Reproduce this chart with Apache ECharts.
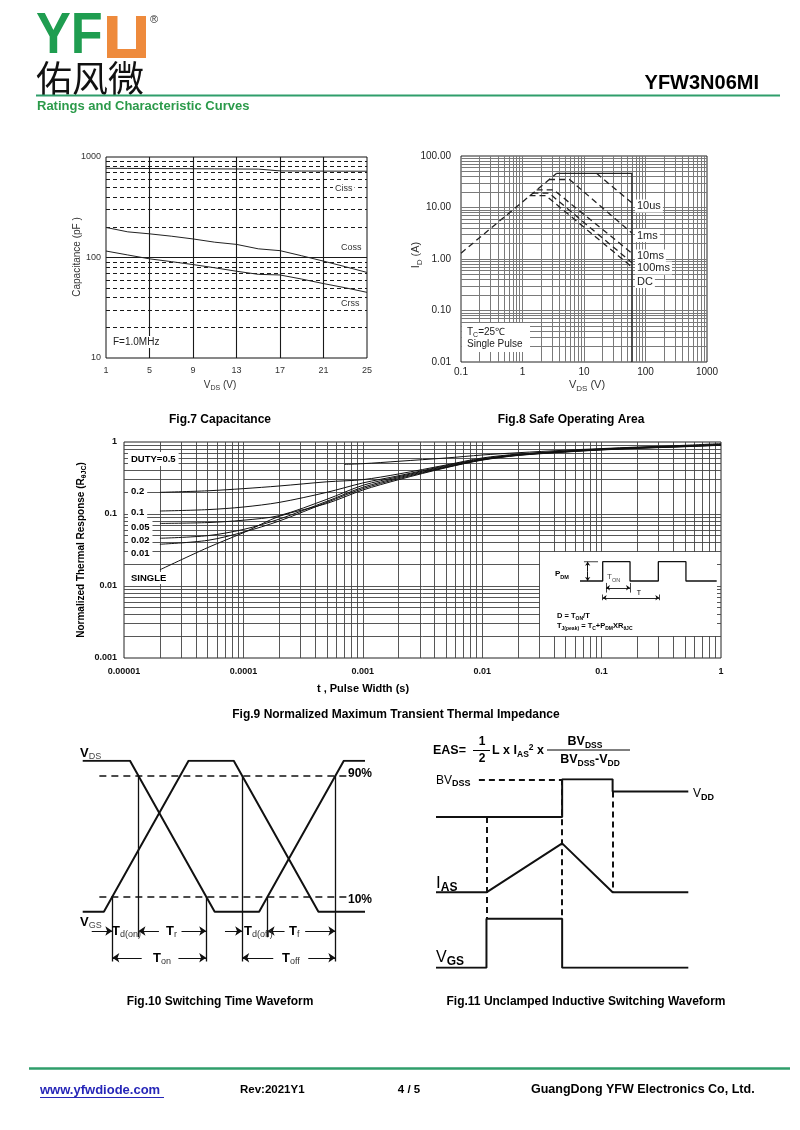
<!DOCTYPE html>
<html><head><meta charset="utf-8">
<script src="https://cdn.jsdelivr.net/npm/echarts/dist/echarts.min.js"></script>
<style>html,body{margin:0;padding:0;background:#fff}#c{width:800px;height:1130px}</style>
</head><body><div id="c"></div>
<script>
// ================= DATA =================
// Fig.7 Capacitance
const capVds  = [1, 3, 5, 7, 9, 11, 13, 15, 17, 19, 21, 23, 25];
const capCiss = [772, 770, 768, 766, 764, 762, 760, 758, 727, 725, 724, 723, 722];
const capCoss = [199, 180, 172, 163, 153, 142, 135, 122, 117, 104, 92, 81, 71];
const capCrss = [116, 106, 97, 91, 85, 79, 73, 68, 67, 61, 55, 50, 45];
const capXTicks = [1, 5, 9, 13, 17, 21, 25];

// Fig.8 Safe Operating Area (V, A)
const soaRdsV = [0.1, 3.6],          soaRdsI = [1.3, 46];
const soa10usV = [16, 60],           soa10usI = [46, 12.3];
const soa1msV = [2.7, 5.8, 60],      soa1msI = [35, 35, 3.2];
const soa10msV = [1.7, 3.2, 60],     soa10msI = [22, 22, 1.3];
const soa100msV = [1.45, 2.7, 60],   soa100msI = [19, 19, 0.85];
const soaDcV = [1.3, 2.4, 60],       soaDcI = [17, 17, 0.7];
const soaLimV = [3.6, 60, 60],       soaLimI = [46, 46, 0.01];

// Fig.9 Transient thermal impedance
const thT = [2e-5, 5e-5, 1e-4, 2e-4, 5e-4, 1e-3, 2e-3, 5e-3, 1e-2, 2e-2, 5e-2, 0.1, 0.2, 0.5, 1];
const thD05T = [7e-4, 1e-3, 2e-3, 5e-3, 1e-2, 2e-2, 5e-2, 0.1, 0.2, 0.5, 1];
const thD05  = [0.49, 0.5, 0.54, 0.6, 0.66, 0.71, 0.77, 0.81, 0.85, 0.9, 0.95];
const thD02  = [0.2, 0.21, 0.225, 0.245, 0.28, 0.30, 0.36, 0.48, 0.6, 0.68, 0.75, 0.8, 0.84, 0.885, 0.925];
const thD01  = [0.11, 0.115, 0.125, 0.145, 0.2, 0.27, 0.34, 0.47, 0.585, 0.67, 0.745, 0.795, 0.835, 0.88, 0.92];
const thD005 = [0.074, 0.076, 0.082, 0.095, 0.16, 0.25, 0.33, 0.46, 0.575, 0.665, 0.74, 0.79, 0.83, 0.875, 0.915];
const thD002 = [0.046, 0.05, 0.061, 0.085, 0.15, 0.235, 0.32, 0.45, 0.57, 0.66, 0.735, 0.785, 0.825, 0.87, 0.91];
const thD001 = [0.038, 0.043, 0.056, 0.08, 0.145, 0.225, 0.31, 0.445, 0.565, 0.655, 0.73, 0.78, 0.82, 0.865, 0.905];
const thSingle = [0.0168, 0.034, 0.055, 0.093, 0.14, 0.215, 0.3, 0.44, 0.56, 0.65, 0.725, 0.775, 0.815, 0.86, 0.9];

// Fig.9 inset pulse train (time units, level)
const pulseT = [0, 16.6, 16.6, 36.6, 36.6, 57.3, 57.3, 77.5, 77.5, 100];
const pulseP = [0, 0, 1, 1, 0, 0, 1, 1, 0, 0];

// Fig.10 Switching waveform (time units 0..100, level 0..1)
const swTimeA = [0, 16.75, 46.75, 62.5, 92.5, 100], swLevelA = [1, 1, 0, 0, 1, 1]; // V_DS
const swTimeB = [0, 7.5, 37.5, 53.5, 83.5, 100],    swLevelB = [0, 0, 1, 1, 0, 0]; // V_GS
const swRefLevels = [0.9, 0.1];
const swMarkT   = [10.5, 19.75, 43.75, 56.5, 65.5, 89.5];
const swMarkTop = [0.1, 0.9, 0.1, 0.9, 0.1, 0.9];
const swMarkRow = [2, 1, 2, 2, 1, 2];

// Fig.11 Unclamped inductive switching (time units 0..100, level units 0..100)
const uisTVds = [0, 50, 50, 70, 70, 100], uisVds = [80, 80, 100, 100, 93.5, 93.5];
const uisTIas = [0, 20, 50, 70, 100],     uisIas = [40, 40, 66, 40, 40];
const uisTVgs = [0, 20, 20, 50, 50, 100], uisVgs = [0, 0, 26, 26, 0, 0];
const uisEdges = [20, 50, 70];

// ================= BUILD =================
const F = '"Liberation Sans", Arial, Helvetica, sans-serif';
const CJK = '"Noto Sans CJK SC", sans-serif';
const zip = (xs, ys) => xs.map((x, i) => [x, ys[i]]);
const G = [];
function T(x, y, text, o) {
  o = o || {};
  const st = {
    text: text, fill: o.color || '#000', fontSize: o.size || 12, fontWeight: o.weight || 'normal',
    fontFamily: o.family || F, align: o.align || 'left', textAlign: o.align || 'left',
    verticalAlign: o.va || 'middle', textVerticalAlign: o.va || 'middle'
  };
  if (o.rich) st.rich = o.rich;
  if (o.bg) { st.backgroundColor = o.bg; st.padding = o.pad || [1, 2]; }
  const el = { type: 'text', x: x, y: y, z: o.z || 100, silent: true, style: st };
  if (o.rot) el.rotation = o.rot;
  if (o.sx) el.scaleX = o.sx;
  G.push(el);
}
function R(x, y, w, h, fill, z) {
  G.push({ type: 'rect', z: z || 50, silent: true, shape: { x: x, y: y, width: w, height: h }, style: { fill: fill || '#fff' } });
}
function LN(x1, y1, x2, y2, color, w) {
  G.push({ type: 'line', z: 100, silent: true, shape: { x1: x1, y1: y1, x2: x2, y2: y2 }, style: { stroke: color || '#000', lineWidth: w || 1 } });
}
function rich(ms, ss, mw, sw, sc, mc) {
  const L = ms + 4, c = mc || '#000', s = sc || c;
  return {
    m: { fontSize: ms, fontWeight: mw || 'normal', fontFamily: F, lineHeight: L, fill: c, color: c },
    s: { fontSize: ss, fontWeight: sw || 'normal', fontFamily: F, lineHeight: ss, verticalAlign: 'bottom', fill: s, color: s },
    p: { fontSize: ss, fontWeight: sw || 'normal', fontFamily: F, lineHeight: ss, verticalAlign: 'top', fill: s, color: s }
  };
}
function logLines(lo, hi, withMajor) {
  const out = [], e0 = Math.round(Math.log10(lo)), e1 = Math.round(Math.log10(hi));
  for (let e = e0; e < e1; e++) {
    const b = Math.pow(10, e);
    if (withMajor && e > e0) out.push(b);
    for (let m = 2; m <= 9; m++) out.push(m * b);
  }
  return out;
}
// grid lines drawn as a lines series spanning the axis range
function gridLines(gi, xVals, yVals, xr, yr, style, perItem) {
  const data = xVals.map(v => ({ coords: [[v, yr[0]], [v, yr[1]]] }))
    .concat(yVals.map(v => ({ coords: [[xr[0], v], [xr[1], v]] })));
  if (perItem) data.forEach((d, i) => { if (perItem[i]) d.lineStyle = perItem[i]; });
  return {
    type: 'lines', coordinateSystem: 'cartesian2d', xAxisIndex: gi, yAxisIndex: gi, silent: true, z: 1,
    symbol: ['none', 'none'], animation: false,
    lineStyle: Object.assign({ opacity: 1, curveness: 0 }, style), data: data
  };
}
function S(gi, xs, ys, o) {
  o = o || {};
  return {
    type: 'line', xAxisIndex: gi, yAxisIndex: gi, data: zip(xs, ys), symbol: 'none', silent: true,
    z: o.z || 3, smooth: o.smooth || false, animation: false,
    lineStyle: { color: o.color || '#111', width: o.width || 1, type: o.type || 'solid' },
    emphasis: { disabled: true }
  };
}
function A(gi, segs, o) {
  o = o || {};
  return {
    type: 'lines', coordinateSystem: 'cartesian2d', xAxisIndex: gi, yAxisIndex: gi, silent: true,
    z: o.z || 3, symbol: o.symbol || ['none', 'arrow'], symbolSize: o.size || 7, animation: false,
    lineStyle: { color: '#111', width: o.width || 1.2, type: o.type || 'solid', opacity: 1, curveness: 0 },
    data: segs.map(s => ({ coords: s }))
  };
}
const hidden = (min, max) => ({ type: 'value', min: min, max: max, show: false });
const noLine = { show: false };

const grids = [
  { left: 106, top: 157, width: 261, height: 201, show: true, borderColor: '#111', borderWidth: 1, backgroundColor: 'transparent', outerBoundsMode: 'none' },
  { left: 461, top: 156, width: 246, height: 206, show: true, borderColor: '#222', borderWidth: 1, backgroundColor: 'transparent', outerBoundsMode: 'none' },
  { left: 124, top: 442, width: 597, height: 216, show: true, borderColor: '#222', borderWidth: 1, backgroundColor: 'transparent', outerBoundsMode: 'none' },
  { left: 82.7, top: 760.7, width: 282.3, height: 203.85, show: false, outerBoundsMode: 'none' },
  { left: 436, top: 779.3, width: 252.3, height: 188.4, show: false, outerBoundsMode: 'none' },
  { left: 580, top: 561.7, width: 136.7, height: 38.6, show: false, outerBoundsMode: 'none' }
];
const lblStyle = (sz, col, mg, wt) => ({ fontSize: sz, color: col, margin: mg, fontFamily: F, fontWeight: wt || 'normal' });
const decFmt = v => { const e = Math.round(Math.log10(v)); return e < 0 ? v.toFixed(-e) : String(Math.round(v)); };

const xAxes = [
  { gridIndex: 0, type: 'value', min: 1, max: 25, interval: 4, axisLine: noLine, axisTick: noLine, splitLine: noLine, axisLabel: Object.assign(lblStyle(9, '#333', 8), { formatter: v => String(v) }) },
  { gridIndex: 1, type: 'log', logBase: 10, min: 0.1, max: 1000, axisLine: noLine, axisTick: noLine, splitLine: noLine, minorTick: noLine, axisLabel: Object.assign(lblStyle(10, '#222', 5), { formatter: decFmt }) },
  { gridIndex: 2, type: 'log', logBase: 10, min: 1e-5, max: 1, axisLine: noLine, axisTick: noLine, splitLine: noLine, axisLabel: Object.assign(lblStyle(9, '#111', 9, 'bold'), { formatter: decFmt }) },
  Object.assign({ gridIndex: 3 }, hidden(0, 100)),
  Object.assign({ gridIndex: 4 }, hidden(0, 100)),
  Object.assign({ gridIndex: 5 }, hidden(0, 100))
];
const yAxes = [
  { gridIndex: 0, type: 'log', logBase: 10, min: 10, max: 1000, axisLine: noLine, axisTick: noLine, splitLine: noLine, axisLabel: Object.assign(lblStyle(9, '#333', 5), { formatter: decFmt }) },
  { gridIndex: 1, type: 'log', logBase: 10, min: 0.01, max: 100, axisLine: noLine, axisTick: noLine, splitLine: noLine, axisLabel: Object.assign(lblStyle(10, '#222', 10), { formatter: v => v.toFixed(2) }) },
  { gridIndex: 2, type: 'log', logBase: 10, min: 0.001, max: 1, axisLine: noLine, axisTick: noLine, splitLine: noLine, axisLabel: Object.assign(lblStyle(9, '#111', 7, 'bold'), { formatter: decFmt }) },
  Object.assign({ gridIndex: 3 }, hidden(-0.35, 1)),
  Object.assign({ gridIndex: 4 }, hidden(0, 100)),
  Object.assign({ gridIndex: 5 }, hidden(-1, 1))
];

const series = [];
// ---- Fig.7 ----
const solid7 = { color: '#1a1a1a', width: 1.1, type: 'solid', opacity: 1 };
const dash7 = { color: '#1a1a1a', width: 1, type: [4, 3], opacity: 1 };
const cap7X = capXTicks.slice(1, -1);
const cap7Y = [100].concat(logLines(10, 1000, false));
series.push(gridLines(0, cap7X, cap7Y, [1, 25], [10, 1000], solid7,
  cap7X.map(() => solid7).concat([solid7]).concat(logLines(10, 1000, false).map(() => dash7))));
series.push(S(0, capVds, capCiss, { color: '#222' }));
series.push(S(0, capVds, capCoss, { color: '#222' }));
series.push(S(0, capVds, capCrss, { color: '#222' }));

// ---- Fig.8 ----
series.push(gridLines(1, logLines(0.1, 1000, true), logLines(0.01, 100, true), [0.1, 1000], [0.01, 100],
  { color: '#7a7a7a', width: 1, type: 'solid' }));
const dashSoa = { color: '#222', width: 1.3, type: [6, 4] };
[[soaRdsV, soaRdsI], [soa10usV, soa10usI], [soa1msV, soa1msI], [soa10msV, soa10msI], [soa100msV, soa100msI], [soaDcV, soaDcI]]
  .forEach(p => series.push(S(1, p[0], p[1], dashSoa)));
series.push(S(1, soaLimV, soaLimI, { color: '#222', width: 1.3 }));

// ---- Fig.9 ----
series.push(gridLines(2, logLines(1e-5, 1, true), logLines(0.001, 1, true), [1e-5, 1], [0.001, 1],
  { color: '#444', width: 0.9, type: 'solid' }));
series.push(S(2, thD05T, thD05, { smooth: 0.3 }));
[thD02, thD01, thD005, thD002, thD001, thSingle].forEach(d => series.push(S(2, thT, d, { smooth: 0.3 })));

// ---- Fig.9 inset ----
series.push(S(5, pulseT, pulseP, { width: 1.3, z: 60 }));
series.push(S(5, [2.9, 13.2], [1, 1], { width: 1, z: 60 }));
series.push(A(5, [[[5.6, 0.5], [5.6, 1]], [[5.6, 0.5], [5.6, 0]]], { size: 4, width: 1, z: 60 }));
series.push(A(5, [[[19, -0.35], [36.6, -0.35]], [[16.6, -0.87], [58, -0.87]]], { symbol: ['arrow', 'arrow'], size: 4, width: 0.9, z: 60 }));
series.push(A(5, [[[19, -0.6], [19, -0.1]], [[36.6, -0.6], [36.6, -0.1]], [[16.6, -1], [16.6, -0.7]], [[58, -1], [58, -0.7]]], { symbol: ['none', 'none'], width: 0.8, z: 60 }));

// ---- Fig.10 ----
series.push(S(3, swTimeA, swLevelA, { width: 2 }));
series.push(S(3, swTimeB, swLevelB, { width: 2 }));
series.push(A(3, swRefLevels.map(l => [[5.9, l], [93.5, l]]), { symbol: ['none', 'none'], width: 1.5, type: [7, 5] }));
const rowY = { 1: -0.128, 2: -0.305 }, rowEnd = { 1: -0.17, 2: -0.33 };
series.push(A(3, swMarkT.map((t, i) => [[t, swMarkTop[i]], [t, rowEnd[swMarkRow[i]]]]), { symbol: ['none', 'none'], width: 1.3 }));
const r1 = rowY[1], r2 = rowY[2];
series.push(A(3, [
  [[3.2, r1], [swMarkT[0], r1]],
  [[27, r1], [swMarkT[1], r1]], [[35, r1], [swMarkT[2], r1]],
  [[50.4, r1], [swMarkT[3], r1]],
  [[71.5, r1], [swMarkT[4], r1]], [[78.8, r1], [swMarkT[5], r1]],
  [[20.9, r2], [swMarkT[0], r2]], [[33.9, r2], [swMarkT[2], r2]],
  [[67.5, r2], [swMarkT[3], r2]], [[79.9, r2], [swMarkT[5], r2]]
], { size: 7, width: 1.1 }));

// ---- Fig.11 ----
series.push(S(4, uisTVds, uisVds, { width: 2 }));
series.push(S(4, uisTIas, uisIas, { width: 2 }));
series.push(S(4, uisTVgs, uisVgs, { width: 2 }));
series.push(A(4, [
  [[17, 100], [uisEdges[1], 100]],
  [[uisEdges[0], 80], [uisEdges[0], 26]],
  [[uisEdges[1], 100], [uisEdges[1], 26]],
  [[uisEdges[2], 93.5], [uisEdges[2], 40]]
], { symbol: ['none', 'none'], width: 2, type: [6, 4] }));

// ================= TEXT / DECORATION =================
// Header
T(36, 37, 'YF', { size: 58, weight: 'bold', color: '#1f9d50', sx: 0.9 });
R(107, 16, 39, 42, '#ee8a3c', 90);
R(117.5, 16, 18.5, 33, '#ffffff', 91);
T(150, 20, '®', { size: 11, color: '#333' });
T(36, 78, '佑风微', { size: 36, family: CJK, color: '#111' });
T(759, 83, 'YFW3N06MI', { size: 20, weight: 'bold', align: 'right' });
LN(36, 95.5, 780, 95.5, '#2f9e6b', 2);
T(37, 106, 'Ratings and Characteristic Curves', { size: 13, weight: 'bold', color: '#2b9a4a' });

// Fig.7 labels
T(333, 189, 'Ciss', { size: 9, color: '#333', bg: '#fff' });
T(339, 248, 'Coss', { size: 9, color: '#333', bg: '#fff' });
T(339, 304, 'Crss', { size: 9, color: '#333', bg: '#fff' });
T(111, 342, 'F=1.0MHz', { size: 10, color: '#222', bg: '#fff' });
T(77, 257, 'Capacitance (pF )', { size: 10, color: '#333', align: 'center', rot: Math.PI / 2 });
T(220, 385, '{m|V}{s|DS}{m| (V)}', { align: 'center', rich: rich(10, 7, 'normal', 'normal', '#333', '#333') });
T(220, 420, 'Fig.7 Capacitance', { size: 12, weight: 'bold', align: 'center' });

// Fig.8 labels
T(635, 206, '10us', { size: 11, color: '#222', bg: '#fff' });
T(635, 235.5, '1ms', { size: 11, color: '#222', bg: '#fff' });
T(635, 256, '10ms', { size: 11, color: '#222', bg: '#fff' });
T(635, 268, '100ms', { size: 11, color: '#222', bg: '#fff' });
T(635, 281.5, 'DC', { size: 11, color: '#222', bg: '#fff' });
R(462, 323, 68, 29, '#fff', 50);
T(467, 332, '{m|T}{s|C}{m|=25℃}', { rich: rich(10, 7, 'normal', 'normal', '#222', '#222') });
T(467, 344, 'Single Pulse', { size: 10, color: '#222' });
T(416, 255, '{m|I}{s|D}{m| (A)}', { align: 'center', rot: Math.PI / 2, rich: rich(11, 8, 'normal', 'normal', '#333', '#333') });
T(587, 385, '{m|V}{s|DS}{m| (V)}', { align: 'center', rich: rich(11, 8, 'normal', 'normal', '#333', '#333') });
T(571, 420, 'Fig.8 Safe Operating Area', { size: 12, weight: 'bold', align: 'center' });

// Fig.9 labels
T(128, 459, 'DUTY=0.5', { size: 9.5, weight: 'bold', bg: '#fff', pad: [2, 3] });
[['0.2', 491], ['0.1', 512], ['0.05', 527], ['0.02', 540], ['0.01', 553], ['SINGLE', 578]]
  .forEach(p => T(128, p[1], p[0], { size: 9.5, weight: 'bold', bg: '#fff', pad: [1, 3] }));
T(81, 550, '{m|Normalized Thermal Response (R}{s|θJC}{m|)}', { align: 'center', rot: Math.PI / 2, rich: rich(10, 7, 'bold', 'bold') });
T(363, 689, 't , Pulse Width (s)', { size: 11, weight: 'bold', align: 'center' });
T(396, 715, 'Fig.9 Normalized Maximum Transient Thermal Impedance', { size: 12, weight: 'bold', align: 'center' });
// inset
R(540, 552, 177, 84, '#fff', 50);
T(555, 574, '{m|P}{s|DM}', { rich: rich(8, 5.5, 'bold', 'bold') });
T(607, 577, '{m|T}{s|ON}', { rich: rich(8, 5.5, 'normal', 'normal', '#444', '#444') });
T(639, 593, 'T', { size: 7, align: 'center' });
T(557, 615.5, '{m|D = T}{s|ON}{m|/T}', { rich: rich(7.5, 5, 'bold', 'bold') });
T(557, 625.5, '{m|T}{s|J(peak)}{m| = T}{s|C}{m|+P}{s|DM}{m|XR}{s|θJC}', { rich: rich(7.5, 5, 'bold', 'bold') });

// Fig.10 labels
T(80, 753, '{m|V}{s|DS}', { rich: rich(13, 9, 'bold', 'normal', '#444') });
T(80, 922, '{m|V}{s|GS}', { rich: rich(13, 9, 'bold', 'normal', '#444') });
T(348, 774, '90%', { size: 12, weight: 'bold' });
T(348, 900, '10%', { size: 12, weight: 'bold' });
const tr = rich(13, 9, 'bold', 'normal', '#333');
T(112, 931, '{m|T}{s|d(on)}', { rich: tr });
T(166, 931, '{m|T}{s|r}', { rich: tr });
T(244, 931, '{m|T}{s|d(off)}', { rich: tr });
T(289, 931, '{m|T}{s|f}', { rich: tr });
T(153, 958, '{m|T}{s|on}', { rich: tr });
T(282, 958, '{m|T}{s|off}', { rich: tr });
T(220, 1002, 'Fig.10 Switching Time Waveform', { size: 12, weight: 'bold', align: 'center' });

// Fig.11 labels
const fr = rich(12.5, 8.5, 'bold', 'bold');
T(433, 751, 'EAS=', { size: 12.5, weight: 'bold' });
T(482, 742, '1', { size: 12, weight: 'bold', align: 'center' });
T(482, 759, '2', { size: 12, weight: 'bold', align: 'center' });
LN(473, 750.5, 490, 750.5, '#000', 1);
T(492, 751, '{m|L x I}{s|AS}{p|2}{m| x}', { rich: fr });
LN(547, 750, 630, 750, '#000', 1);
T(585, 742, '{m|BV}{s|DSS}', { align: 'center', rich: fr });
T(590, 759.5, '{m|BV}{s|DSS}{m|-V}{s|DD}', { align: 'center', rich: fr });
T(436, 780.5, '{m|BV}{s|DSS}', { rich: rich(12, 9, 'normal', 'bold') });
T(693, 794, '{m|V}{s|DD}', { rich: rich(12, 9, 'normal', 'bold') });
T(436, 883, '{m|I}{s|AS}', { rich: rich(17, 12, 'normal', 'bold') });
T(436, 958, '{m|V}{s|GS}', { rich: rich(16, 12, 'normal', 'bold') });
T(586, 1002, 'Fig.11 Unclamped Inductive Switching Waveform', { size: 12, weight: 'bold', align: 'center' });

// Footer
LN(29, 1068.5, 790, 1068.5, '#2f9e6b', 2.5);
T(40, 1090, 'www.yfwdiode.com', { size: 13, weight: 'bold', color: '#2626b8' });
LN(40, 1097.5, 164, 1097.5, '#2626b8', 1.2);
T(240, 1090, 'Rev:2021Y1', { size: 11.5, weight: 'bold' });
T(409, 1090, '4 / 5', { size: 11.5, weight: 'bold', align: 'center' });
T(531, 1090, 'GuangDong YFW Electronics Co, Ltd.', { size: 12.5, weight: 'bold' });

const chart = echarts.init(document.getElementById('c'), null, { renderer: 'canvas' });
chart.setOption({
  backgroundColor: '#fff',
  animation: false,
  textStyle: { fontFamily: F },
  grid: grids, xAxis: xAxes, yAxis: yAxes, series: series,
  graphic: { elements: G }
});
</script></body></html>
